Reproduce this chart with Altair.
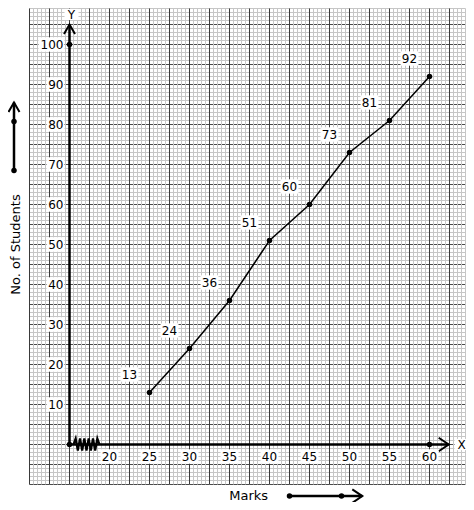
import altair as alt
import pandas as pd

# ---------------- values ----------------
marks = [25, 30, 35, 40, 45, 50, 55, 60]
students = [13, 24, 36, 51, 60, 73, 81, 92]
x_tick_values = [20, 25, 30, 35, 40, 45, 50, 55, 60]
y_tick_values = [10, 20, 30, 40, 50, 60, 70, 80, 90, 100]
axis_dot_x = [15, 60, 15]
axis_dot_y = [0, 0, 100]
x_title = "Marks"
y_title = "No. of Students"

# graph-paper extent (data units)
x_min, x_max = 10, 64.5
y_min, y_max = -10, 109
origin_x = 15
y_axis_top = 105
x_axis_end = 62.4

# decorative arrows beside the titles (data units, outside the plot)
y_arrow_x = 8.0625
y_arrow_from, y_arrow_mid, y_arrow_tip = 68.5, 80.75, 85.5
x_arrow_y = -12.9
x_arrow_from, x_arrow_mid, x_arrow_tip = 42.5, 49.0, 51.6
y_title_pos = (8.25, 50)
x_title_pos = (37.4, -12.75)
y_letter_pos = 107.5
x_letter_pos = 63.75
kink_center = 17.125

FONT = "DejaVu Sans"

minor_x = [x_min + 0.5 * i for i in range(int((x_max - x_min) / 0.5) + 1)]
major_x = [x_min + 2.5 * i for i in range(int((x_max - x_min) / 2.5) + 1)]
minor_y = list(range(y_min, y_max + 1))
major_y = list(range(y_min, y_max + 1, 5))

XS = alt.Scale(domain=[x_min, x_max], nice=False, zero=False)
YS = alt.Scale(domain=[y_min, y_max], nice=False, zero=False)


def X(f):
    return alt.X(f"{f}:Q", scale=XS, axis=None)


def Y(f):
    return alt.Y(f"{f}:Q", scale=YS, axis=None)


def df(**kw):
    return pd.DataFrame(kw)


layers = []

# ---- graph paper ----
layers.append(alt.Chart(df(y=minor_y)).mark_rule(color="#c6c6c6", strokeWidth=1).encode(y=Y("y")))
layers.append(alt.Chart(df(y=major_y)).mark_rule(color="#4a4a4a", strokeWidth=1).encode(y=Y("y")))
layers.append(alt.Chart(df(x=minor_x)).mark_rule(color="#c6c6c6", strokeWidth=1).encode(x=X("x")))
layers.append(alt.Chart(df(x=major_x)).mark_rule(color="#3a3a3a", strokeWidth=1).encode(x=X("x")))

# ---- axes ----
layers.append(
    alt.Chart(df(x=[origin_x], y=[0], y2=[y_axis_top]))
    .mark_rule(color="black", strokeWidth=2.5)
    .encode(x=X("x"), y=Y("y"), y2="y2:Q")
)
layers.append(
    alt.Chart(df(x=[origin_x], x2=[x_axis_end], y=[0]))
    .mark_rule(color="black", strokeWidth=2.5)
    .encode(x=X("x"), x2="x2:Q", y=Y("y"))
)

UP = "M-1.1,1.9L0,0L1.1,1.9"
RIGHT = "M-2,-1.35L0,0L-2,1.35"
layers.append(
    alt.Chart(df(x=[origin_x, y_arrow_x], y=[y_axis_top, y_arrow_tip]))
    .mark_point(shape=UP, size=100, filled=False, color="black", strokeWidth=2, opacity=1)
    .encode(x=X("x"), y=Y("y"))
)
layers.append(
    alt.Chart(df(x=[x_axis_end, x_arrow_tip], y=[0, x_arrow_y]))
    .mark_point(shape=RIGHT, size=100, filled=False, color="black", strokeWidth=2, opacity=1)
    .encode(x=X("x"), y=Y("y"))
)

# kink on the x axis
pts = []
n = 12
for i in range(n + 1):
    px = -2.6 + i * 5.2 / n
    py = 0 if i in (0, n) else (-1.2 if i % 2 else 1.2)
    pts.append(f"{'M' if i == 0 else 'L'}{px:.3f},{py}")
KINK = "".join(pts)
layers.append(
    alt.Chart(df(x=[kink_center], y=[0]))
    .mark_point(shape=KINK, size=100, filled=False, color="black", strokeWidth=2.2, opacity=1)
    .encode(x=X("x"), y=Y("y"))
)

# side arrows
layers.append(
    alt.Chart(df(x=[y_arrow_x], y=[y_arrow_from], y2=[y_arrow_tip]))
    .mark_rule(color="black", strokeWidth=2.5)
    .encode(x=X("x"), y=Y("y"), y2="y2:Q")
)
layers.append(
    alt.Chart(df(x=[x_arrow_from], x2=[x_arrow_tip], y=[x_arrow_y]))
    .mark_rule(color="black", strokeWidth=2.5)
    .encode(x=X("x"), x2="x2:Q", y=Y("y"))
)

# dots on axes and arrows
dot_x = axis_dot_x + [y_arrow_x, y_arrow_x, x_arrow_from, x_arrow_mid]
dot_y = axis_dot_y + [y_arrow_from, y_arrow_mid, x_arrow_y, x_arrow_y]
layers.append(
    alt.Chart(df(x=dot_x, y=dot_y))
    .mark_circle(size=30, color="black", opacity=1)
    .encode(x=X("x"), y=Y("y"))
)

# ---- label backgrounds ----
BOX2 = "M-1,-0.8H1V0.8H-1Z"
BOX3 = "M-1,-0.55H1V0.55H-1Z"
ytick_df = df(x=[origin_x] * len(y_tick_values), y=y_tick_values, lab=[str(v) for v in y_tick_values])
xtick_df = df(x=x_tick_values, y=[0] * len(x_tick_values), lab=[str(v) for v in x_tick_values])
data_df = df(x=marks, y=students, lab=[str(v) for v in students])
letters_df = df(x=[origin_x, x_letter_pos], y=[y_letter_pos, 0], lab=["Y", "X"])


def box(data, shape, size, dx, dy, flt=None):
    c = alt.Chart(data)
    if flt is not None:
        c = c.transform_filter(flt)
    return c.mark_point(shape=shape, size=size, filled=True, color="white", opacity=1, strokeWidth=0).encode(
        x=X("x"), y=Y("y"), xOffset=alt.value(dx), yOffset=alt.value(dy)
    )


layers.append(box(ytick_df, BOX2, 324, -14, 0, "datum.y < 100"))
layers.append(box(ytick_df, BOX3, 676, -18, 0, "datum.y >= 100"))
layers.append(box(xtick_df, BOX2, 324, 0, 12))
layers.append(box(data_df, BOX2, 324, -20, -18))
layers.append(box(letters_df, BOX2, 196, 2, 0))

# ---- ogive ----
layers.append(
    alt.Chart(data_df).mark_line(color="black", strokeWidth=1.5).encode(x=X("x"), y=Y("y"))
)
layers.append(
    alt.Chart(data_df).mark_circle(size=30, color="black", opacity=1).encode(x=X("x"), y=Y("y"))
)

# ---- texts ----
txt = dict(font=FONT, fontSize=12, color="black")
layers.append(
    alt.Chart(ytick_df).mark_text(align="right", baseline="middle", dx=-6, **txt)
    .encode(x=X("x"), y=Y("y"), text="lab:N")
)
layers.append(
    alt.Chart(xtick_df).mark_text(align="center", baseline="middle", dy=12, **txt)
    .encode(x=X("x"), y=Y("y"), text="lab:N")
)
layers.append(
    alt.Chart(data_df).mark_text(align="center", baseline="middle", dx=-20, dy=-18, **txt)
    .encode(x=X("x"), y=Y("y"), text="lab:N")
)
layers.append(
    alt.Chart(letters_df)
    .mark_text(align="center", baseline="middle", dx=2, **txt)
    .encode(x=X("x"), y=Y("y"), text="lab:N")
)
layers.append(
    alt.Chart(df(x=[y_title_pos[0]], y=[y_title_pos[1]], lab=[y_title]))
    .mark_text(align="center", baseline="middle", angle=270, font=FONT, fontSize=13, color="black")
    .encode(x=X("x"), y=Y("y"), text="lab:N")
)
layers.append(
    alt.Chart(df(x=[x_title_pos[0]], y=[x_title_pos[1]], lab=[x_title]))
    .mark_text(align="center", baseline="middle", font=FONT, fontSize=13, color="black")
    .encode(x=X("x"), y=Y("y"), text="lab:N")
)

chart = (
    alt.layer(*layers)
    .properties(
        width=436,
        height=476,
        padding={"left": 21.5, "top": 0.5, "right": 0, "bottom": 17},
        autosize=alt.AutoSizeParams(type="none"),
        background="white",
    )
    .configure_view(stroke=None)
)

chart.save("out.html", embed_options={"renderer": "svg", "actions": False})
